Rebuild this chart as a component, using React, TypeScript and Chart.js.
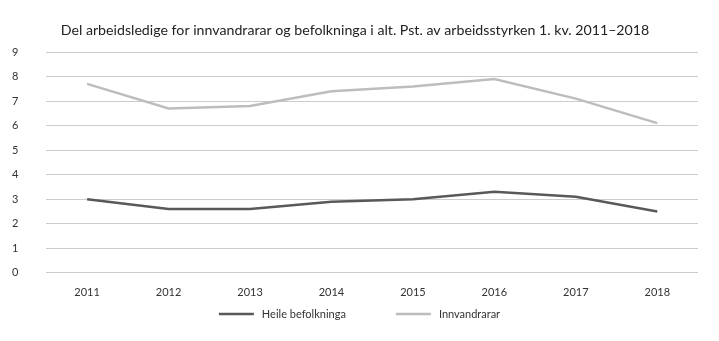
import React, { useEffect, useRef } from "react";
import { Chart, registerables } from "chart.js";

Chart.register(...registerables);

const years = ["2011", "2012", "2013", "2014", "2015", "2016", "2017", "2018"];
const heile = [3.0, 2.6, 2.6, 2.9, 3.0, 3.3, 3.1, 2.5];
const innvandrarar = [7.7, 6.7, 6.8, 7.4, 7.6, 7.9, 7.1, 6.1];
const titleText = "Del arbeidsledige for innvandrarar og befolkninga i alt. Pst. av arbeidsstyrken 1. kv. 2011–2018";

const FONT = "Lato, 'Open Sans', sans-serif";

const customLegend = {
  id: "customLegend",
  afterDraw(chart: any) {
    const ctx = chart.ctx as CanvasRenderingContext2D;
    const ds = chart.data.datasets;
    ctx.save();
    ctx.font = `11px ${FONT}`;
    const boxW = 35;
    const gapText = 8;
    const gapItem = 50;
    const widths = ds.map((d: any) => boxW + gapText + ctx.measureText(d.label).width);
    const total = widths.reduce((a: number, b: number) => a + b, 0) + gapItem * (ds.length - 1);
    let x = (chart.width - total) / 2;
    const y = chart.height - 27;
    ds.forEach((d: any, i: number) => {
      ctx.strokeStyle = d.borderColor;
      ctx.lineWidth = 2.5;
      ctx.beginPath();
      ctx.moveTo(x, y);
      ctx.lineTo(x + boxW, y);
      ctx.stroke();
      ctx.fillStyle = "#333";
      ctx.textBaseline = "middle";
      ctx.textAlign = "left";
      ctx.fillText(d.label, x + boxW + gapText, y);
      x += widths[i] + gapItem;
    });
    ctx.restore();
  },
};

export default function App() {
  const ref = useRef<HTMLCanvasElement>(null);
  useEffect(() => {
    if (!ref.current) return;
    const chart = new Chart(ref.current, {
      type: "line",
      data: {
        labels: years,
        datasets: [
          {
            label: "Heile befolkninga",
            data: heile,
            borderColor: "#595959",
            backgroundColor: "#595959",
            borderWidth: 2.5,
            pointRadius: 0,
            tension: 0,
          },
          {
            label: "Innvandrarar",
            data: innvandrarar,
            borderColor: "#bdbdbd",
            backgroundColor: "#bdbdbd",
            borderWidth: 2.5,
            pointRadius: 0,
            tension: 0,
          },
        ],
      },
      plugins: [customLegend],
      options: {
        animation: false,
        responsive: true,
        maintainAspectRatio: false,
        layout: { padding: { left: 4, right: 13, top: 0, bottom: 37 } },
        plugins: {
          title: {
            display: true,
            text: titleText,
            color: "#222",
            font: { family: FONT, size: 14.2, weight: "normal" },
            padding: { top: 14, bottom: 13 },
          },
          legend: { display: false },
          tooltip: { enabled: false },
        },
        scales: {
          x: {
            offset: true,
            grid: { display: false },
            border: { display: false },
            ticks: { color: "#333", font: { family: FONT, size: 11 }, padding: 5 },
          },
          y: {
            min: 0,
            max: 9,
            ticks: { stepSize: 1, color: "#333", font: { family: FONT, size: 11 }, padding: 14, crossAlign: "far" } as any,
            grid: { color: "#cccccc", drawTicks: false },
            border: { display: false },
          },
        },
      },
    });
    return () => chart.destroy();
  }, []);
  return (
    <div style={{ width: 703, height: 333 }}>
      <canvas ref={ref} />
    </div>
  );
}
